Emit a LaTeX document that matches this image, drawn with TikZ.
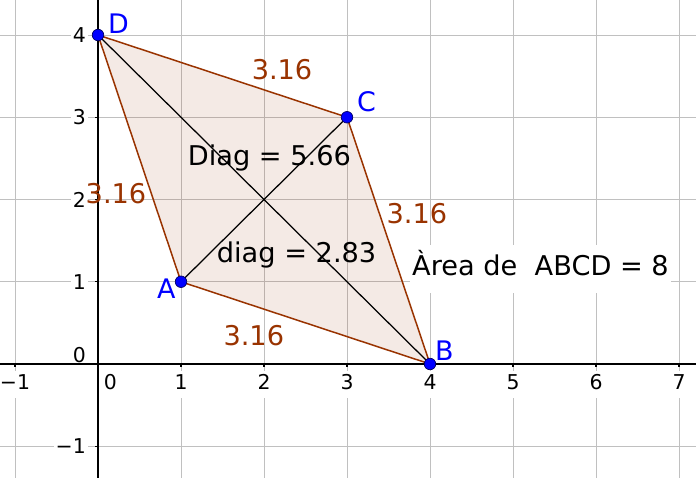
\documentclass[tikz,border=0pt]{standalone}
\usepackage{fontspec}
\setmainfont{DejaVu Sans}
\definecolor{edgebrown}{RGB}{153,51,0}
\definecolor{ptblue}{RGB}{0,0,255}
\definecolor{gridc}{RGB}{192,192,192}
\begin{document}
\begin{tikzpicture}[x=83bp,y=82.25bp,
  gridline/.style={draw=gridc, line width=0.8bp},
  axisline/.style={draw=black, line width=1.2bp},
  xticklab/.style={fill=white, font=\fontsize{20.5}{24}\selectfont, anchor=base, inner xsep=2bp, inner ysep=4bp, text height=15bp, text depth=4bp},
  yticklab/.style={fill=white, font=\fontsize{20.5}{24}\selectfont, anchor=east, inner xsep=2bp, inner ysep=3bp},
  side/.style={draw=edgebrown, line width=1.5bp},
  diagline/.style={draw=black, line width=1.25bp},
  lenlab/.style={text=edgebrown, font=\fontsize{27.3}{31}\selectfont, anchor=base west, inner sep=0pt},
  txtlab/.style={text=black, font=\fontsize{27.3}{31}\selectfont, anchor=base west, inner sep=0pt},
  ptlab/.style={text=ptblue, font=\fontsize{27}{31}\selectfont, anchor=base west, inner sep=0pt},
  pt/.style={circle, fill=ptblue, draw=black!60!blue, line width=0.7bp, minimum size=11.5bp, inner sep=0pt}]
\useasboundingbox (-1.1807,-1.3860) rectangle (7.2048,4.4255);
\fill[white] (-1.1807,-1.3860) rectangle (7.2048,4.4255);
% grid
\foreach \i in {-1,...,7} \draw[gridline] (\i,-1.3860) -- (\i,4.4255);
\foreach \j in {-1,...,4} \draw[gridline] (-1.1807,\j) -- (7.2048,\j);
% tick labels
\node[xticklab] (xm1) at (-1,-0.316) {−1};
\node[xticklab] (x0) at (0.15,-0.316) {0};
\foreach \i in {1,...,7} \node[xticklab] (x\i) at (\i,-0.316) {\i};
\node[yticklab] (ym1) at (-0.12,-1) {−1};
\node[yticklab] (y0) at (-0.12,0.109) {0};
\foreach \j in {1,...,4} \node[yticklab] (y\j) at (-0.12,\j) {\j};
% axes
\draw[axisline] (-1.1807,0) -- (7.2048,0);
\draw[axisline] (0,-1.3860) -- (0,4.4255);
\foreach \i in {-1,1,2,...,7} \draw[axisline] (\i,0) -- (\i,-0.04);
\foreach \j in {-1,1,2,3,4} \draw[axisline] (0,\j) -- (-0.04,\j);
% quadrilateral
\coordinate (A) at (1,1);
\coordinate (B) at (4,0);
\coordinate (C) at (3,3);
\coordinate (D) at (0,4);
\fill[edgebrown, fill opacity=0.1] (A) -- (B) -- (C) -- (D) -- cycle;
\draw[side] (A) -- (B) -- (C) -- (D) -- cycle;
\draw[diagline] (D) -- (B);
\draw[diagline] (A) -- (C);
% area label
\node[txtlab, fill=white, inner xsep=2bp, inner ysep=4bp, text height=27bp, text depth=13bp] (area) at (3.759,1.070) {Àrea de~~ABCD = 8};
% length labels
\node[lenlab] (lDC) at (1.850,3.465) {3.16};
\node[lenlab] (lAD) at (-0.150,1.957) {3.16};
\node[lenlab] (lBC) at (3.475,1.714) {3.16};
\node[lenlab] (lAB) at (1.510,0.231) {3.16};
\node[txtlab] (dBig) at (1.080,2.419) {Diag = 5.66};
\node[txtlab] (dSmall) at (1.430,1.228) {diag = 2.83};
% points
\node[pt] (pA) at (A) {};
\node[pt] (pB) at (B) {};
\node[pt] (pC) at (C) {};
\node[pt] (pD) at (D) {};
\node[ptlab] (nA) at (0.711,0.802) {A};
\node[ptlab] (nB) at (4.060,0.0486) {B};
\node[ptlab] (nC) at (3.120,3.064) {C};
\node[ptlab] (nD) at (0.1205,4.024) {D};
\end{tikzpicture}
\end{document}
